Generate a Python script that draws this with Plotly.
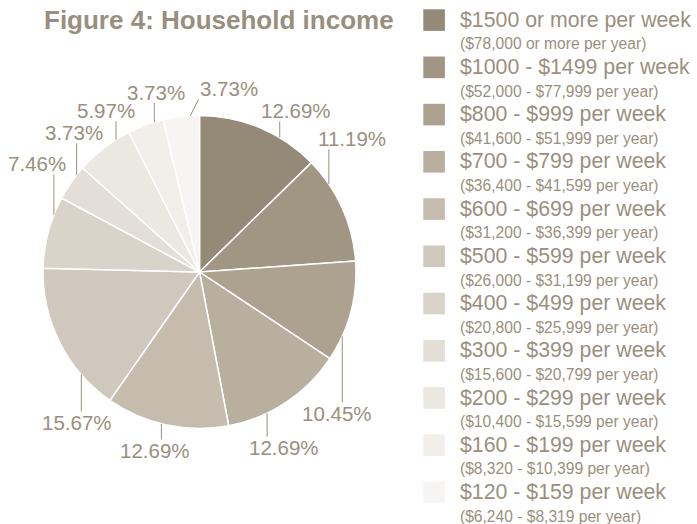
import math
import plotly.graph_objects as go

# ---------------- data ----------------
categories = [
    "$1500 or more per week", "$1000 - $1499 per week", "$800 - $999 per week",
    "$700 - $799 per week", "$600 - $699 per week", "$500 - $599 per week",
    "$400 - $499 per week", "$300 - $399 per week", "$200 - $299 per week",
    "$160 - $199 per week", "$120 - $159 per week",
]
yearly = [
    "($78,000 or more per year)", "($52,000 - $77,999 per year)", "($41,600 - $51,999 per year)",
    "($36,400 - $41,599 per year)", "($31,200 - $36,399 per year)", "($26,000 - $31,199 per year)",
    "($20,800 - $25,999 per year)", "($15,600 - $20,799 per year)", "($10,400 - $15,599 per year)",
    "($8,320 - $10,399 per year)", "($6,240 - $8,319 per year)",
]
households = [17, 15, 14, 17, 17, 21, 10, 5, 8, 5, 5]
title_text = "Figure 4: Household income"

# ---------------- style ----------------
colors = ["#958a77", "#a19584", "#ada290", "#b9af9f", "#c5bcae", "#d0c8bd",
          "#dad3ca", "#e3ded7", "#ebe7e1", "#f2efeb", "#f6f5f3"]
text_color = "#9a8f7e"
font_family = "Liberation Sans, Arial, Helvetica, sans-serif"
W, H = 697, 524
cx, cy, R = 199.5, 272.0, 156.5
lbl_font = 20.5
# label placement nudges (degrees relative to slice middle, distance from centre in px)
lbl_angle_nudge = [8, -17, 31, 8, 2, -24, 19, 13, 7.5, 6.7, 15.7]
lbl_dist = [188, 203, 197, 195, 184, 194, 195, 188, 187, 185, 186]


def X(px):
    return px / W


def Y(py):
    return 1 - py / H


def text_width(s, size):
    w = 0
    for ch in s:
        if ch.isdigit():
            w += 0.556
        elif ch == ".":
            w += 0.278
        elif ch == "%":
            w += 0.889
        else:
            w += 0.55
    return w * size


total = sum(households)
pct_text = [f"{v / total * 100:.2f}%" for v in households]

fig = go.Figure()
fig.add_trace(go.Pie(
    values=households,
    labels=categories,
    sort=False,
    direction="clockwise",
    rotation=0,
    textinfo="none",
    hoverinfo="label+percent",
    marker=dict(colors=colors, line=dict(color="white", width=1.5)),
    domain=dict(x=[X(cx - R), X(cx + R)], y=[Y(cy + R), Y(cy - R)]),
    showlegend=False,
))

shapes = []
annotations = []

# percentage labels with leader lines
cum = 0
for i, v in enumerate(households):
    a0 = cum / total * 360
    cum += v
    a1 = cum / total * 360
    mid = (a0 + a1) / 2
    la = mid + lbl_angle_nudge[i]
    d = lbl_dist[i]
    lx = cx + d * math.sin(math.radians(la))
    ly = cy - d * math.cos(math.radians(la))
    annotations.append(dict(
        x=X(lx), y=Y(ly), xref="paper", yref="paper", text=pct_text[i],
        showarrow=False, xanchor="center", yanchor="middle",
        font=dict(size=lbl_font, color=text_color, family=font_family),
    ))
    # leader line: from slice edge to label box
    span = a1 - a0
    lo, hi = a0 + 0.25 * span, a1 - 0.25 * span
    la_n = la % 360
    if la_n < lo - 180:
        la_n += 360
    if la_n > hi + 180:
        la_n -= 360
    sa = min(max(la_n, lo), hi)
    sx = cx + R * math.sin(math.radians(sa))
    sy = cy - R * math.cos(math.radians(sa))
    hw = text_width(pct_text[i], lbl_font) / 2
    hh = 9
    ex = min(max(sx, lx - hw), lx + hw)
    ey = min(max(sy, ly - hh), ly + hh)
    dx, dy = sx - ex, sy - ey
    L = math.hypot(dx, dy)
    if L > 0:
        ex += dx / L * 2
        ey += dy / L * 2
    shapes.append(dict(type="line", xref="paper", yref="paper",
                       x0=X(sx), y0=Y(sy), x1=X(ex), y1=Y(ey),
                       line=dict(color=text_color, width=1)))

# custom legend
leg_x0, leg_top, leg_step, sq = 423.3, 9.3, 47.24, 21.6
for i, c in enumerate(categories):
    top = leg_top + i * leg_step
    shapes.append(dict(type="rect", xref="paper", yref="paper",
                       x0=X(leg_x0), x1=X(leg_x0 + sq), y0=Y(top), y1=Y(top + sq),
                       fillcolor=colors[i], line=dict(width=0)))
    annotations.append(dict(
        x=X(457.5), y=Y(top + sq / 2 - 0.5), xref="paper", yref="paper", text=c,
        showarrow=False, xanchor="left", yanchor="middle",
        font=dict(size=21.3, color=text_color, family=font_family),
    ))
    annotations.append(dict(
        x=X(457.5), y=Y(top + 34.5), xref="paper", yref="paper", text=yearly[i],
        showarrow=False, xanchor="left", yanchor="middle",
        font=dict(size=15.6, color=text_color, family=font_family),
    ))

# title
annotations.append(dict(
    x=X(218.7), y=Y(19.5), xref="paper", yref="paper", text="<b>" + title_text + "</b>",
    showarrow=False, xanchor="center", yanchor="middle",
    font=dict(size=26, color=text_color, family=font_family),
))

fig.update_layout(
    width=W, height=H,
    margin=dict(l=0, r=0, t=0, b=0),
    paper_bgcolor="white", plot_bgcolor="white",
    shapes=shapes, annotations=annotations,
    showlegend=False,
)

fig.write_html(
    "out.html",
    config={"displayModeBar": False},
    post_script="document.body.style.margin='0';document.body.style.overflow='hidden';",
)
